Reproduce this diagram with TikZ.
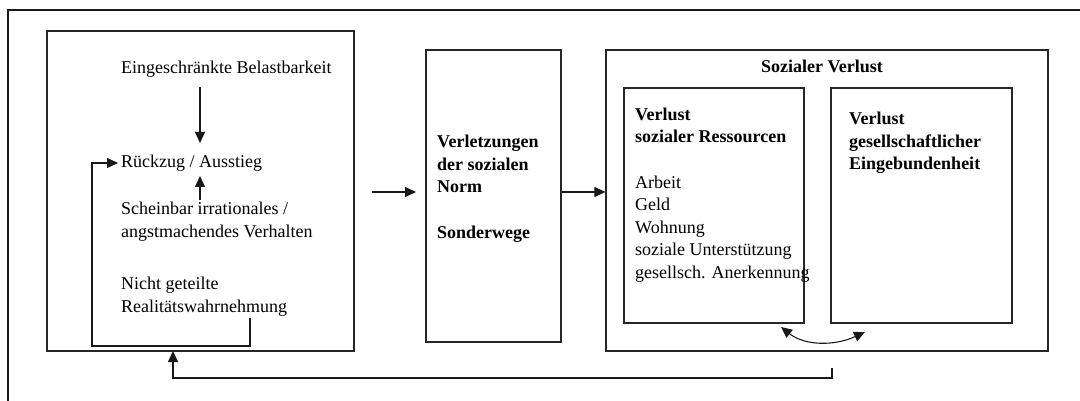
\documentclass[tikz,border=0pt]{standalone}
\usepackage{fontspec}
\setmainfont{Liberation Serif}
\usetikzlibrary{arrows.meta,calc}

\begin{document}
\begin{tikzpicture}[x=1pt,y=-1pt,
  every node/.style={font=\fontsize{18}{22.5}\selectfont, inner sep=0pt},
  frame/.style={draw=black!85, line width=1.2pt, rectangle},
  txt/.style={anchor=base west, align=left},
  btxt/.style={anchor=base west, align=left, font=\fontsize{18}{22.5}\selectfont\bfseries},
  arr/.style={draw=black!90, line width=1.1pt, -{Triangle[length=11pt,width=10pt]}},
  dblarr/.style={draw=black!90, line width=1.1pt, {Triangle[length=11pt,width=10pt]}-{Triangle[length=11pt,width=10pt]}}]

\useasboundingbox (0,0) rectangle (1080,401);

% outer frame (open towards right and bottom)
\draw[line width=1.8pt, black!90] (1080,10) -- (8,10) -- (8,401);

% main boxes
\node[frame, minimum width=307pt, minimum height=320pt] (left) at (200.5,191) {};
\node[frame, minimum width=135pt, minimum height=292pt] (mid) at (493.5,196) {};
\node[frame, minimum width=442pt, minimum height=301pt] (loss) at (827,200.5) {};
\node[frame, minimum width=180pt, minimum height=235pt] (res) at (714,205.5) {};
\node[frame, minimum width=181pt, minimum height=235pt] (emb) at (921.5,205.5) {};

% left box contents (multi-line nodes sit on the baseline of their last line)
\node[txt] (eb) at (121,74) {Eingeschränkte Belastbarkeit};
\node[txt] (rz) at (121,168) {Rückzug / Ausstieg};
\node[txt] (sv) at (121,237) {Scheinbar irrationales /\\angstmachendes Verhalten};
\node[txt] (rw) at (121,312) {Nicht geteilte\\Realitätswahrnehmung};

% middle box contents
\node[btxt] (norm) at (437,193) {Verletzungen\\der sozialen\\Norm};
\node[btxt] (sw) at (437,238) {Sonderwege};

% right box contents
\node[btxt, anchor=base] (sl) at (822,73) {Sozialer Verlust};
\node[btxt] (rt) at (635,143) {Verlust\\sozialer Ressourcen};
\node[txt] (rl) at (635,278) {Arbeit\\Geld\\Wohnung\\soziale Unterstützung\\gesellsch. Anerkennung};
\node[btxt] (et) at (849,170) {Verlust\\gesellschaftlicher\\Eingebundenheit};

% helper points for the connectors
\coordinate (ebout) at (200,87);
\coordinate (rzin) at (200,143);
\coordinate (svout) at (200,200);
\coordinate (rzup) at (200,176);
\coordinate (rwout) at (250,318);
\coordinate (rzleft) at (118,163);
\coordinate (lout) at (372,192);
\coordinate (midin) at (416,192);
\coordinate (back) at (832,368);
\coordinate (backin) at (173,351);
\coordinate (resout) at (781,327);
\coordinate (embin) at (865,332);

% arrows inside the left box
\draw[arr] (ebout) -- (rzin);
\draw[arr] (svout) -- (rzup);
\draw[arr] (rwout) -- (250,346) -- (92,346) -- (92,163) -- (rzleft);

% main flow
\draw[arr] (lout) -- (midin);
\draw[arr] (mid.east |- midin) -- (loss.west |- midin);

% mutual influence of the two losses
\draw[dblarr] (resout) .. controls (805,346) and (835,346) .. (embin);

% feedback to the left box
\draw[arr] (back) -- (832,378) -- (173,378) -- (backin);
\end{tikzpicture}
\end{document}
